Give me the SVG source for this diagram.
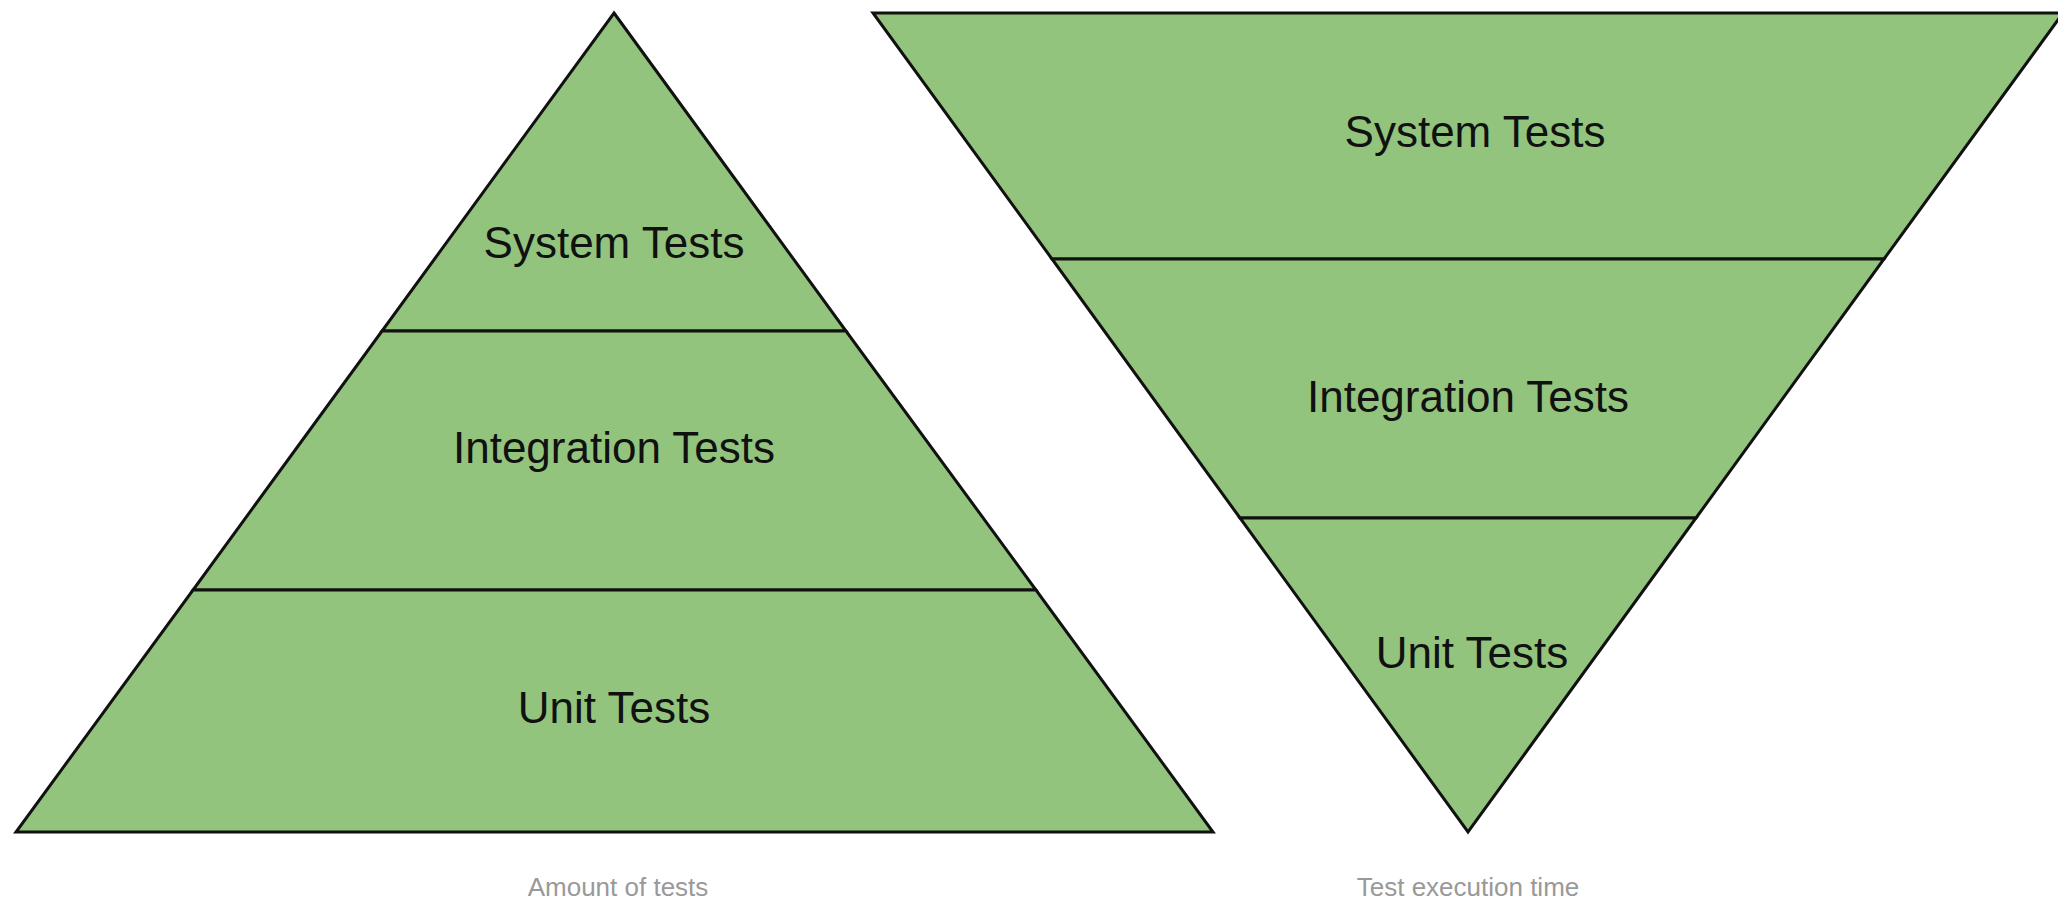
<svg xmlns="http://www.w3.org/2000/svg" width="2058" height="903" viewBox="0 0 2058 903">
<style>
.layer{fill:#93c47d;stroke:#111;stroke-width:3;stroke-linejoin:miter}
.lbl{font-family:"Liberation Sans",Arial,sans-serif;font-size:44px;fill:#111;text-anchor:middle}
.cap{font-family:"Liberation Sans",Arial,sans-serif;font-size:26px;fill:#999;text-anchor:middle}
</style>
<rect width="2058" height="903" fill="#fff"/>
<g id="pyramid-amount">
<g id="left-system"><polygon class="layer" points="614,13 846,331 382,331"/><text class="lbl" x="614" y="258">System Tests</text></g>
<g id="left-integration"><polygon class="layer" points="382,331 846,331 1036,590 193,590"/><text class="lbl" x="614" y="463">Integration Tests</text></g>
<g id="left-unit"><polygon class="layer" points="193,590 1036,590 1213,832 16,832"/><text class="lbl" x="614" y="723">Unit Tests</text></g>
<text id="caption-left" class="cap" x="618" y="896">Amount of tests</text>
</g>
<g id="pyramid-time">
<g id="right-system"><polygon class="layer" points="873,13 2063,13 1884,259 1052,259"/><text class="lbl" x="1475" y="147">System Tests</text></g>
<g id="right-integration"><polygon class="layer" points="1052,259 1884,259 1696,518 1240,518"/><text class="lbl" x="1468" y="412">Integration Tests</text></g>
<g id="right-unit"><polygon class="layer" points="1240,518 1696,518 1468,832"/><text class="lbl" x="1472" y="668">Unit Tests</text></g>
<text id="caption-right" class="cap" x="1468" y="896">Test execution time</text>
</g>
<g id="connectors"/>
</svg>
